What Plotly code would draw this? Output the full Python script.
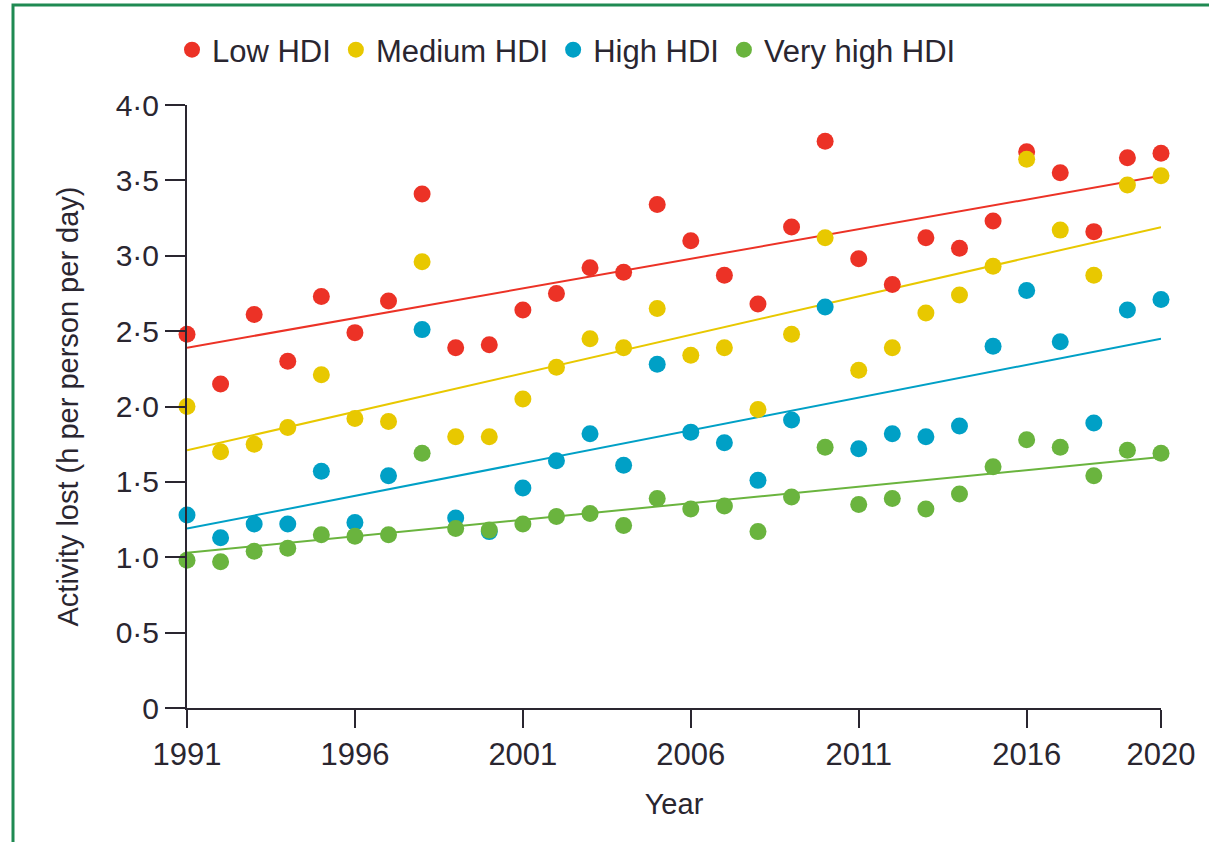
import plotly.graph_objects as go

# Datos
years = list(range(1991, 2021))

low_hdi = [2.48, 2.15, 2.61, 2.30, 2.73, 2.49, 2.70, 3.41, 2.39, 2.41,
           2.64, 2.75, 2.92, 2.89, 3.34, 3.10, 2.87, 2.68, 3.19, 3.76,
           2.98, 2.81, 3.12, 3.05, 3.23, 3.69, 3.55, 3.16, 3.65, 3.68]
medium_hdi = [2.00, 1.70, 1.75, 1.86, 2.21, 1.92, 1.90, 2.96, 1.80, 1.80,
              2.05, 2.26, 2.45, 2.39, 2.65, 2.34, 2.39, 1.98, 2.48, 3.12,
              2.24, 2.39, 2.62, 2.74, 2.93, 3.64, 3.17, 2.87, 3.47, 3.53]
high_hdi = [1.28, 1.13, 1.22, 1.22, 1.57, 1.23, 1.54, 2.51, 1.26, 1.17,
            1.46, 1.64, 1.82, 1.61, 2.28, 1.83, 1.76, 1.51, 1.91, 2.66,
            1.72, 1.82, 1.80, 1.87, 2.40, 2.77, 2.43, 1.89, 2.64, 2.71]
very_high_hdi = [0.98, 0.97, 1.04, 1.06, 1.15, 1.14, 1.15, 1.69, 1.19, 1.18,
                 1.22, 1.27, 1.29, 1.21, 1.39, 1.32, 1.34, 1.17, 1.40, 1.73,
                 1.35, 1.39, 1.32, 1.42, 1.60, 1.78, 1.73, 1.54, 1.71, 1.69]

# Líneas de tendencia (valores en 1991 y 2020)
trend_years = [1991, 2020]
trend_low = [2.39, 3.53]
trend_medium = [1.71, 3.19]
trend_high = [1.19, 2.45]
trend_very_high = [1.03, 1.665]

series_names = ["Low HDI", "Medium HDI", "High HDI", "Very high HDI"]

y_tickvals = [0, 0.5, 1.0, 1.5, 2.0, 2.5, 3.0, 3.5, 4.0]
y_ticktext = ["0", "0·5", "1·0", "1·5", "2·0", "2·5", "3·0", "3·5", "4·0"]
x_tickvals = [1991, 1996, 2001, 2006, 2011, 2016, 2020]

COLORS = ["#ec3226", "#e8c800", "#00a0c6", "#6ab43e"]
TEXT = "#2a2630"
FONT = "Liberation Sans, Arial, sans-serif"

values = [low_hdi, medium_hdi, high_hdi, very_high_hdi]
trends = [trend_low, trend_medium, trend_high, trend_very_high]

fig = go.Figure()

# Tendencias primero, para que queden debajo de los puntos
for trend, color in zip(trends, COLORS):
    fig.add_trace(go.Scatter(x=trend_years, y=trend, mode="lines",
                             line=dict(color=color, width=2),
                             showlegend=False, hoverinfo="skip",
                             cliponaxis=False))

for name, vals, color in zip(series_names, values, COLORS):
    fig.add_trace(go.Scatter(x=years, y=vals, mode="markers", name=name,
                             marker=dict(color=color, size=17, line=dict(width=0)),
                             cliponaxis=False))

# Área del gráfico en píxeles: x 187..1161, y 105..708
L, R, T, B = 187, 1161, 105, 708
W, H = 1209, 842


def px_x(p):
    return (p - L) / (R - L)


def px_y(p):
    return (B - p) / (B - T)


# Marco verde (izquierda y arriba)
frame_path = "M {x0} {y0} L {x0} {y1} L {x2} {y1}".format(
    x0=px_x(13), y0=px_y(H + 5), y1=px_y(5), x2=px_x(W + 5))

fig.update_layout(
    width=W, height=H,
    margin=dict(l=L, r=W - R, t=T, b=H - B),
    paper_bgcolor="white", plot_bgcolor="white",
    font=dict(family=FONT, size=30, color=TEXT),
    showlegend=True,
    legend=dict(orientation="h", x=px_x(172), xanchor="left",
                y=px_y(50), yanchor="middle",
                font=dict(family=FONT, size=31, color=TEXT),
                itemsizing="trace", bgcolor="rgba(0,0,0,0)",
                tracegroupgap=0),
    shapes=[dict(type="path", xref="paper", yref="paper", path=frame_path,
                 line=dict(color="#1f8a52", width=3), layer="above")],
    xaxis=dict(range=[1991, 2020], tickvals=x_tickvals,
               showgrid=False, zeroline=False,
               showline=True, linecolor=TEXT, linewidth=2,
               ticks="outside", ticklen=18, tickwidth=2, tickcolor=TEXT,
               tickfont=dict(family=FONT, size=31, color=TEXT),
               title=dict(text="Year", standoff=22,
                          font=dict(family=FONT, size=29, color=TEXT))),
    yaxis=dict(range=[0, 4.0], tickvals=y_tickvals, ticktext=y_ticktext,
               showgrid=False, zeroline=False,
               showline=True, linecolor=TEXT, linewidth=2,
               ticks="outside", ticklen=20, tickwidth=2, tickcolor=TEXT,
               tickfont=dict(family=FONT, size=30, color=TEXT),
               title=dict(text="Activity lost (h per person per day)", standoff=28,
                          font=dict(family=FONT, size=29, color=TEXT))),
)

# Sin margen del body, para que la figura empiece en (0, 0)
fig.write_html("out.html", config={"displayModeBar": False},
               post_script="document.body.style.margin = '0px';")
